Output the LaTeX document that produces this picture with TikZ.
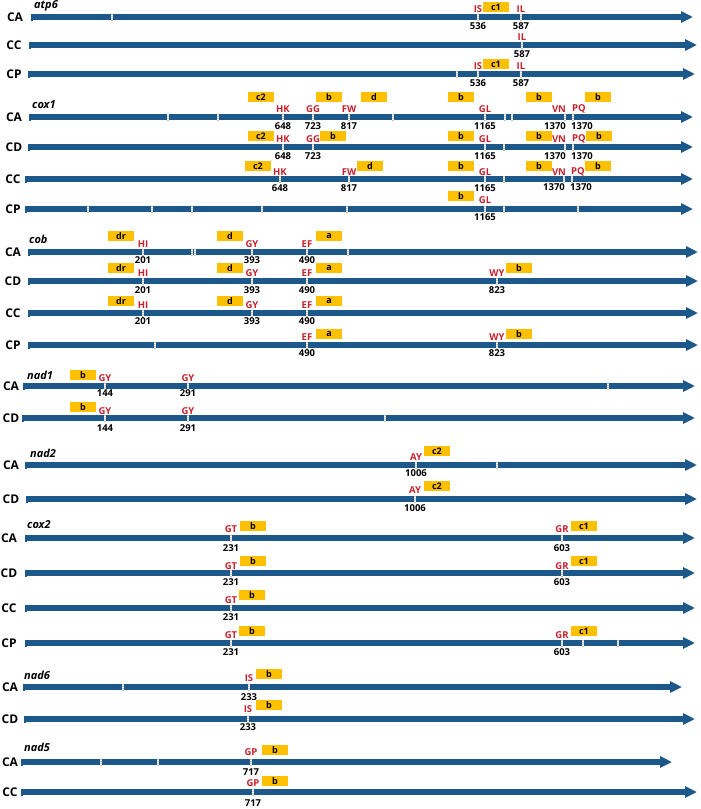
\documentclass[tikz,border=0pt]{standalone}
\usepackage{fontspec}
\setsansfont{Open Sans}
\usepackage{tikz}
\usetikzlibrary{arrows.meta, positioning}
\definecolor{seqblue}{RGB}{29,88,138}
\definecolor{sitered}{RGB}{200,32,44}
\definecolor{motifgold}{RGB}{255,192,0}
\tikzset{every node/.append style={align=center, inner sep=0pt}}

\begin{document}
\begin{tikzpicture}[x=1pt, y=-1pt,
    strain/.style={font=\sffamily\bfseries\fontsize{12}{12}\selectfont},
    gene/.style={font=\sffamily\bfseries\itshape\fontsize{11}{11}\selectfont, anchor=west},
    seq/.style={draw=seqblue, line width=5.5pt, -{Triangle[length=12pt, width=11pt]}},
    startbar/.style={draw=seqblue, line width=1.2pt},
    cut/.style={draw=white, line width=1.5pt, dash pattern=on 1.2pt off 0.8pt,
      preaction={draw=gray!45, line width=2.3pt, dash pattern=}},
    site/.style={font=\sffamily\bfseries\fontsize{9.5}{10}\selectfont, text=sitered},
    num/.style={font=\sffamily\bfseries\fontsize{9.5}{10}\selectfont},
    motif/.style={rectangle, fill=motifgold, minimum width=26pt, minimum height=10pt,
      font=\sffamily\bfseries\fontsize{9}{9}\selectfont}]
\useasboundingbox (0,0) rectangle (701,809);

% atp6
\node[gene] (atp6) at (34,6) {atp6};
\node[strain] (atp6CA) at (15,17) {CA};
\coordinate (atp6CAs) at (32,17); \coordinate (atp6CAe) at (693,17);
\draw[seq] (atp6CAs) -- (atp6CAe);
\draw[startbar] (atp6CAs) +(0,-3.5) -- +(0,3.5);
\foreach \x in {112} \draw[cut] (\x,17) +(0,-4) -- +(0,4);
\foreach \x/\s/\n [count=\i] in {478/IS/536, 521/IL/587} {
  \draw[cut] (\x,17) +(0,-4) -- +(0,4);
  \node[site] (atp6CAl\i) at (\x,9) {\s};
  \node[num] (atp6CAn\i) at (\x,26) {\n};}
\node[motif] (atp6CAb1) at (496,7) {c1};

\node[strain] (atp6CC) at (14,45) {CC};
\coordinate (atp6CCs) at (30,45); \coordinate (atp6CCe) at (697,45);
\draw[seq] (atp6CCs) -- (atp6CCe);
\draw[startbar] (atp6CCs) +(0,-3.5) -- +(0,3.5);
\foreach \x/\s/\n [count=\i] in {522/IL/587} {
  \draw[cut] (\x,45) +(0,-4) -- +(0,4);
  \node[site] (atp6CCl\i) at (\x,37) {\s};
  \node[num] (atp6CCn\i) at (\x,54) {\n};}

\node[strain] (atp6CP) at (14,74) {CP};
\coordinate (atp6CPs) at (29,74); \coordinate (atp6CPe) at (695,74);
\draw[seq] (atp6CPs) -- (atp6CPe);
\draw[startbar] (atp6CPs) +(0,-3.5) -- +(0,3.5);
\foreach \x in {457} \draw[cut] (\x,74) +(0,-4) -- +(0,4);
\foreach \x/\s/\n [count=\i] in {478/IS/536, 521/IL/587} {
  \draw[cut] (\x,74) +(0,-4) -- +(0,4);
  \node[site] (atp6CPl\i) at (\x,66) {\s};
  \node[num] (atp6CPn\i) at (\x,83) {\n};}
\node[motif] (atp6CPb1) at (496,64) {c1};

% cox1
\node[gene] (cox1) at (32,105) {cox1};
\node[strain] (cox1CA) at (14,117) {CA};
\coordinate (cox1CAs) at (30,117); \coordinate (cox1CAe) at (693,117);
\draw[seq] (cox1CAs) -- (cox1CAe);
\draw[startbar] (cox1CAs) +(0,-3.5) -- +(0,3.5);
\foreach \x in {168,218,393,505,512,565,573} \draw[cut] (\x,117) +(0,-4) -- +(0,4);
\foreach \x/\s/\n [count=\i] in {283/HK/648, 313/GG/723, 349/FW/817, 485/GL/1165} {
  \draw[cut] (\x,117) +(0,-4) -- +(0,4);
  \node[site] (cox1CAl\i) at (\x,109) {\s};
  \node[num] (cox1CAn\i) at (\x,126) {\n};}
\node[site] (cox1CAvn) at (559,109) {VN};
\node[site] (cox1CApq) at (579,109) {PQ};
\node[num] (cox1CAn5) at (555,126) {1370};
\node[num] (cox1CAn6) at (582,126) {1370};
\foreach \x/\t [count=\i] in {261/c2, 329/b, 374/d, 461/b, 539/b, 598/b}
  \node[motif] (cox1CAb\i) at (\x,97) {\t};

\node[strain] (cox1CD) at (14,147) {CD};
\coordinate (cox1CDs) at (29,147); \coordinate (cox1CDe) at (693,147);
\draw[seq] (cox1CDs) -- (cox1CDe);
\draw[startbar] (cox1CDs) +(0,-3.5) -- +(0,3.5);
\foreach \x in {504,565,573} \draw[cut] (\x,147) +(0,-4) -- +(0,4);
\foreach \x/\s/\n [count=\i] in {283/HK/648, 313/GG/723, 485/GL/1165} {
  \draw[cut] (\x,147) +(0,-4) -- +(0,4);
  \node[site] (cox1CDl\i) at (\x,139) {\s};
  \node[num] (cox1CDn\i) at (\x,156) {\n};}
\node[site] (cox1CDvn) at (559,139) {VN};
\node[site] (cox1CDpq) at (579,139) {PQ};
\node[num] (cox1CDn4) at (555,156) {1370};
\node[num] (cox1CDn5) at (582,156) {1370};
\foreach \x/\t [count=\i] in {261/c2, 333/b, 461/b, 539/b, 599/b}
  \node[motif] (cox1CDb\i) at (\x,136) {\t};

\node[strain] (cox1CC) at (13,179) {CC};
\coordinate (cox1CCs) at (26,179); \coordinate (cox1CCe) at (693,179);
\draw[seq] (cox1CCs) -- (cox1CCe);
\draw[startbar] (cox1CCs) +(0,-3.5) -- +(0,3.5);
\foreach \x in {504,564,572} \draw[cut] (\x,179) +(0,-4) -- +(0,4);
\foreach \x/\s/\n [count=\i] in {280/HK/648, 349/FW/817, 485/GL/1165} {
  \draw[cut] (\x,179) +(0,-4) -- +(0,4);
  \node[site] (cox1CCl\i) at (\x,172) {\s};
  \node[num] (cox1CCn\i) at (\x,188) {\n};}
\node[site] (cox1CCvn) at (559,172) {VN};
\node[site] (cox1CCpq) at (578,172) {PQ};
\node[num] (cox1CCn4) at (554,187) {1370};
\node[num] (cox1CCn5) at (581,187) {1370};
\foreach \x/\t [count=\i] in {258/c2, 370/d, 461/b, 539/b, 598/b}
  \node[motif] (cox1CCb\i) at (\x,166) {\t};

\node[strain] (cox1CP) at (13,209) {CP};
\coordinate (cox1CPs) at (26,209); \coordinate (cox1CPe) at (693,209);
\draw[seq] (cox1CPs) -- (cox1CPe);
\draw[startbar] (cox1CPs) +(0,-3.5) -- +(0,3.5);
\foreach \x in {88,152,192,262,347,504,578} \draw[cut] (\x,209) +(0,-4) -- +(0,4);
\foreach \x/\s/\n [count=\i] in {485/GL/1165} {
  \draw[cut] (\x,209) +(0,-4) -- +(0,4);
  \node[site] (cox1CPl\i) at (\x,200) {\s};
  \node[num] (cox1CPn\i) at (\x,217) {\n};}
\node[motif] (cox1CPb1) at (461,196) {b};

% cob
\node[gene] (cob) at (29,239) {cob};
\node[strain] (cobCA) at (13,252) {CA};
\coordinate (cobCAs) at (29,252); \coordinate (cobCAe) at (698,252);
\draw[seq] (cobCAs) -- (cobCAe);
\draw[startbar] (cobCAs) +(0,-3.5) -- +(0,3.5);
\foreach \x in {192,195,348} \draw[cut] (\x,252) +(0,-4) -- +(0,4);
\foreach \x/\s/\n [count=\i] in {143/HI/201, 252/GY/393, 307/EF/490} {
  \draw[cut] (\x,252) +(0,-4) -- +(0,4);
  \node[site] (cobCAl\i) at (\x,244) {\s};
  \node[num] (cobCAn\i) at (\x,260) {\n};}
\foreach \x/\t [count=\i] in {121/dr, 230/d, 329/a}
  \node[motif] (cobCAb\i) at (\x,236) {\t};

\node[strain] (cobCD) at (13,281) {CD};
\coordinate (cobCDs) at (29,281); \coordinate (cobCDe) at (698,281);
\draw[seq] (cobCDs) -- (cobCDe);
\draw[startbar] (cobCDs) +(0,-3.5) -- +(0,3.5);
\foreach \x/\s/\n [count=\i] in {143/HI/201, 252/GY/393, 307/EF/490, 497/WY/823} {
  \draw[cut] (\x,281) +(0,-4) -- +(0,4);
  \node[site] (cobCDl\i) at (\x,273) {\s};
  \node[num] (cobCDn\i) at (\x,290) {\n};}
\foreach \x/\t [count=\i] in {121/dr, 230/d, 329/a, 519/b}
  \node[motif] (cobCDb\i) at (\x,268) {\t};

\node[strain] (cobCC) at (13,313) {CC};
\coordinate (cobCCs) at (29,313); \coordinate (cobCCe) at (698,313);
\draw[seq] (cobCCs) -- (cobCCe);
\draw[startbar] (cobCCs) +(0,-3.5) -- +(0,3.5);
\foreach \x/\s/\n [count=\i] in {143/HI/201, 252/GY/393, 307/EF/490} {
  \draw[cut] (\x,313) +(0,-4) -- +(0,4);
  \node[site] (cobCCl\i) at (\x,305) {\s};
  \node[num] (cobCCn\i) at (\x,321) {\n};}
\foreach \x/\t [count=\i] in {121/dr, 230/d, 329/a}
  \node[motif] (cobCCb\i) at (\x,301) {\t};

\node[strain] (cobCP) at (13,345) {CP};
\coordinate (cobCPs) at (29,345); \coordinate (cobCPe) at (698,345);
\draw[seq] (cobCPs) -- (cobCPe);
\draw[startbar] (cobCPs) +(0,-3.5) -- +(0,3.5);
\foreach \x in {155} \draw[cut] (\x,345) +(0,-4) -- +(0,4);
\foreach \x/\s/\n [count=\i] in {307/EF/490, 497/WY/823} {
  \draw[cut] (\x,345) +(0,-4) -- +(0,4);
  \node[site] (cobCPl\i) at (\x,337) {\s};
  \node[num] (cobCPn\i) at (\x,353) {\n};}
\foreach \x/\t [count=\i] in {329/a, 519/b}
  \node[motif] (cobCPb\i) at (\x,334) {\t};

% nad1
\node[gene] (nad1) at (27,375) {nad1};
\node[strain] (nad1CA) at (11,386) {CA};
\coordinate (nad1CAs) at (24,386); \coordinate (nad1CAe) at (695,386);
\draw[seq] (nad1CAs) -- (nad1CAe);
\draw[startbar] (nad1CAs) +(0,-3.5) -- +(0,3.5);
\foreach \x in {608} \draw[cut] (\x,386) +(0,-4) -- +(0,4);
\foreach \x/\s/\n [count=\i] in {105/GY/144, 188/GY/291} {
  \draw[cut] (\x,386) +(0,-4) -- +(0,4);
  \node[site] (nad1CAl\i) at (\x,378) {\s};
  \node[num] (nad1CAn\i) at (\x,393) {\n};}
\node[motif] (nad1CAb1) at (83,375) {b};

\node[strain] (nad1CD) at (11,418) {CD};
\coordinate (nad1CDs) at (23,418); \coordinate (nad1CDe) at (695,418);
\draw[seq] (nad1CDs) -- (nad1CDe);
\draw[startbar] (nad1CDs) +(0,-3.5) -- +(0,3.5);
\foreach \x in {385} \draw[cut] (\x,418) +(0,-4) -- +(0,4);
\foreach \x/\s/\n [count=\i] in {105/GY/144, 188/GY/291} {
  \draw[cut] (\x,418) +(0,-4) -- +(0,4);
  \node[site] (nad1CDl\i) at (\x,411) {\s};
  \node[num] (nad1CDn\i) at (\x,428) {\n};}
\node[motif] (nad1CDb1) at (83,407) {b};

% nad2
\node[gene] (nad2) at (30,453) {nad2};
\node[strain] (nad2CA) at (11,465) {CA};
\coordinate (nad2CAs) at (26,465); \coordinate (nad2CAe) at (697,465);
\draw[seq] (nad2CAs) -- (nad2CAe);
\draw[startbar] (nad2CAs) +(0,-3.5) -- +(0,3.5);
\foreach \x in {497} \draw[cut] (\x,465) +(0,-4) -- +(0,4);
\foreach \x/\s/\n [count=\i] in {416/AY/1006} {
  \draw[cut] (\x,465) +(0,-4) -- +(0,4);
  \node[site] (nad2CAl\i) at (\x,457) {\s};
  \node[num] (nad2CAn\i) at (\x,473) {\n};}
\node[motif] (nad2CAb1) at (437,451) {c2};

\node[strain] (nad2CD) at (11,499) {CD};
\coordinate (nad2CDs) at (27,499); \coordinate (nad2CDe) at (697,499);
\draw[seq] (nad2CDs) -- (nad2CDe);
\draw[startbar] (nad2CDs) +(0,-3.5) -- +(0,3.5);
\foreach \x/\s/\n [count=\i] in {415/AY/1006} {
  \draw[cut] (\x,499) +(0,-4) -- +(0,4);
  \node[site] (nad2CDl\i) at (\x,490) {\s};
  \node[num] (nad2CDn\i) at (\x,508) {\n};}
\node[motif] (nad2CDb1) at (437,486) {c2};

% cox2
\node[gene] (cox2) at (27,525) {cox2};
\node[strain] (cox2CA) at (9,538) {CA};
\coordinate (cox2CAs) at (26,538); \coordinate (cox2CAe) at (695,538);
\draw[seq] (cox2CAs) -- (cox2CAe);
\draw[startbar] (cox2CAs) +(0,-3.5) -- +(0,3.5);
\foreach \x/\s/\n [count=\i] in {231/GT/231, 562/GR/603} {
  \draw[cut] (\x,538) +(0,-4) -- +(0,4);
  \node[site] (cox2CAl\i) at (\x,529) {\s};
  \node[num] (cox2CAn\i) at (\x,548) {\n};}
\foreach \x/\t [count=\i] in {253/b, 584/c1}
  \node[motif] (cox2CAb\i) at (\x,526) {\t};

\node[strain] (cox2CD) at (9,573) {CD};
\coordinate (cox2CDs) at (26,573); \coordinate (cox2CDe) at (695,573);
\draw[seq] (cox2CDs) -- (cox2CDe);
\draw[startbar] (cox2CDs) +(0,-3.5) -- +(0,3.5);
\foreach \x/\s/\n [count=\i] in {231/GT/231, 562/GR/603} {
  \draw[cut] (\x,573) +(0,-4) -- +(0,4);
  \node[site] (cox2CDl\i) at (\x,566) {\s};
  \node[num] (cox2CDn\i) at (\x,582) {\n};}
\foreach \x/\t [count=\i] in {253/b, 584/c1}
  \node[motif] (cox2CDb\i) at (\x,561) {\t};

\node[strain] (cox2CC) at (9,608) {CC};
\coordinate (cox2CCs) at (26,608); \coordinate (cox2CCe) at (695,608);
\draw[seq] (cox2CCs) -- (cox2CCe);
\draw[startbar] (cox2CCs) +(0,-3.5) -- +(0,3.5);
\foreach \x/\s/\n [count=\i] in {231/GT/231} {
  \draw[cut] (\x,608) +(0,-4) -- +(0,4);
  \node[site] (cox2CCl\i) at (\x,600) {\s};
  \node[num] (cox2CCn\i) at (\x,617) {\n};}
\node[motif] (cox2CCb1) at (252,595) {b};

\node[strain] (cox2CP) at (9,643) {CP};
\coordinate (cox2CPs) at (26,643); \coordinate (cox2CPe) at (695,643);
\draw[seq] (cox2CPs) -- (cox2CPe);
\draw[startbar] (cox2CPs) +(0,-3.5) -- +(0,3.5);
\foreach \x in {583,618} \draw[cut] (\x,643) +(0,-4) -- +(0,4);
\foreach \x/\s/\n [count=\i] in {231/GT/231, 562/GR/603} {
  \draw[cut] (\x,643) +(0,-4) -- +(0,4);
  \node[site] (cox2CPl\i) at (\x,635) {\s};
  \node[num] (cox2CPn\i) at (\x,652) {\n};}
\foreach \x/\t [count=\i] in {252/b, 584/c1}
  \node[motif] (cox2CPb\i) at (\x,631) {\t};

% nad6
\node[gene] (nad6) at (24,675) {nad6};
\node[strain] (nad6CA) at (10,687) {CA};
\coordinate (nad6CAs) at (24,687); \coordinate (nad6CAe) at (682,687);
\draw[seq] (nad6CAs) -- (nad6CAe);
\draw[startbar] (nad6CAs) +(0,-3.5) -- +(0,3.5);
\foreach \x in {123} \draw[cut] (\x,687) +(0,-4) -- +(0,4);
\foreach \x/\s/\n [count=\i] in {249/IS/233} {
  \draw[cut] (\x,687) +(0,-4) -- +(0,4);
  \node[site] (nad6CAl\i) at (\x,678) {\s};
  \node[num] (nad6CAn\i) at (\x,697) {\n};}
\node[motif] (nad6CAb1) at (269,674) {b};

\node[strain] (nad6CD) at (10,719) {CD};
\coordinate (nad6CDs) at (25,719); \coordinate (nad6CDe) at (695,719);
\draw[seq] (nad6CDs) -- (nad6CDe);
\draw[startbar] (nad6CDs) +(0,-3.5) -- +(0,3.5);
\foreach \x/\s/\n [count=\i] in {248/IS/233} {
  \draw[cut] (\x,719) +(0,-4) -- +(0,4);
  \node[site] (nad6CDl\i) at (\x,709) {\s};
  \node[num] (nad6CDn\i) at (\x,727) {\n};}
\node[motif] (nad6CDb1) at (269,705) {b};

% nad5
\node[gene] (nad5) at (24,747) {nad5};
\node[strain] (nad5CA) at (10,762) {CA};
\coordinate (nad5CAs) at (22,762); \coordinate (nad5CAe) at (672,762);
\draw[seq] (nad5CAs) -- (nad5CAe);
\draw[startbar] (nad5CAs) +(0,-3.5) -- +(0,3.5);
\foreach \x in {101,158} \draw[cut] (\x,762) +(0,-4) -- +(0,4);
\foreach \x/\s/\n [count=\i] in {251/GP/717} {
  \draw[cut] (\x,762) +(0,-4) -- +(0,4);
  \node[site] (nad5CAl\i) at (\x,752) {\s};
  \node[num] (nad5CAn\i) at (\x,772) {\n};}
\node[motif] (nad5CAb1) at (275,750) {b};

\node[strain] (nad5CC) at (10,792) {CC};
\coordinate (nad5CCs) at (22,792); \coordinate (nad5CCe) at (697,792);
\draw[seq] (nad5CCs) -- (nad5CCe);
\draw[startbar] (nad5CCs) +(0,-3.5) -- +(0,3.5);
\foreach \x/\s/\n [count=\i] in {253/GP/717} {
  \draw[cut] (\x,792) +(0,-4) -- +(0,4);
  \node[site] (nad5CCl\i) at (\x,783) {\s};
  \node[num] (nad5CCn\i) at (\x,803) {\n};}
\node[motif] (nad5CCb1) at (275,781) {b};
\end{tikzpicture}
\end{document}
